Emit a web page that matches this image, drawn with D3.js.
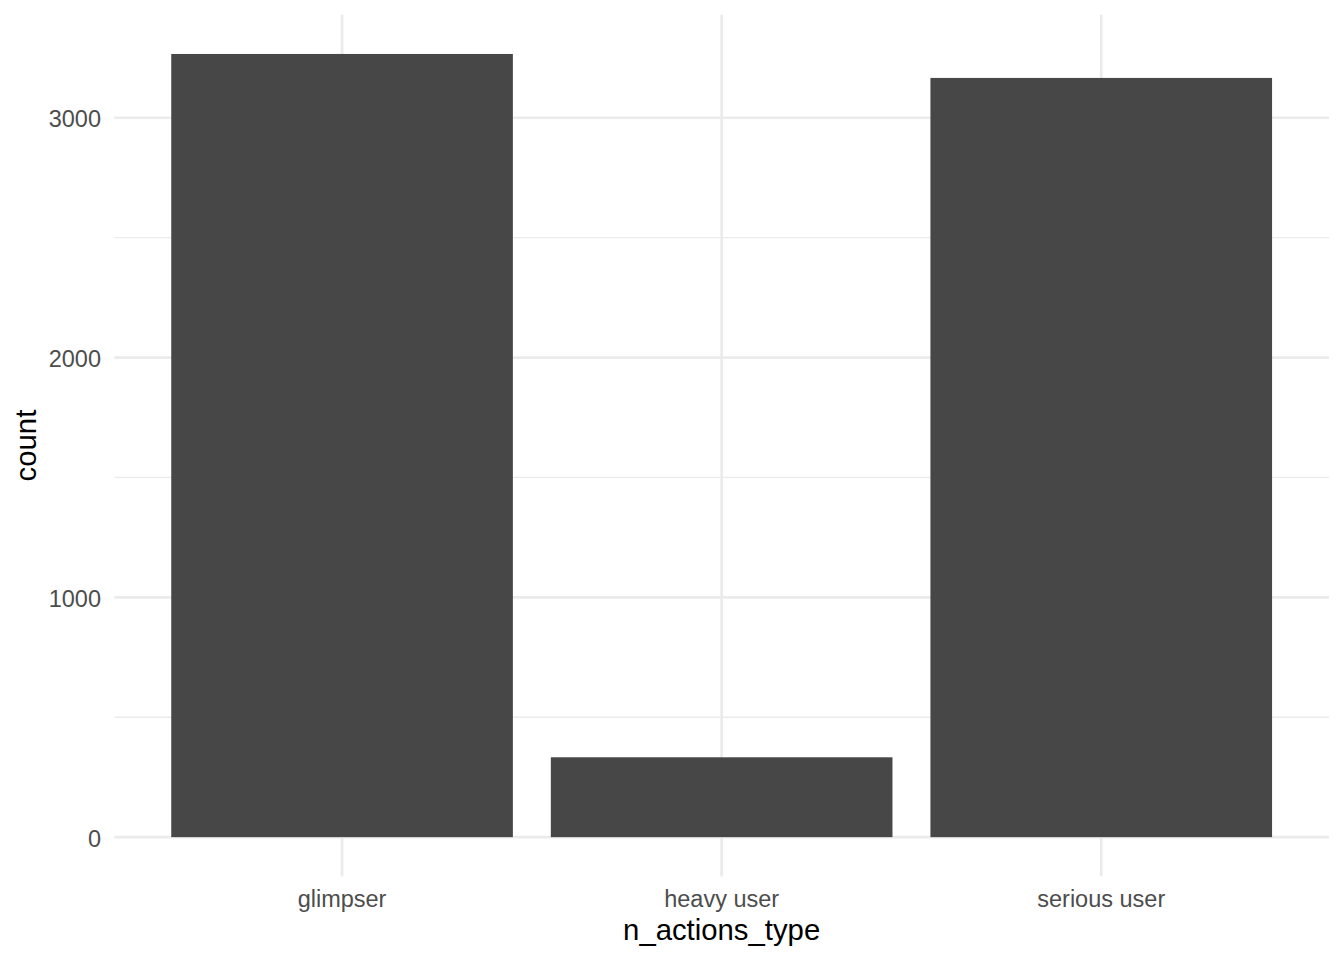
<!DOCTYPE html>
<html>
<head>
<meta charset="utf-8">
<script src="https://cdn.jsdelivr.net/npm/d3@7"></script>
<style>
  html, body { margin: 0; padding: 0; background: #ffffff; }
  svg { display: block; }
  text { font-family: "Liberation Sans", Arial, Helvetica, sans-serif; }
</style>
</head>
<body>
<svg id="chart" width="1344" height="960"></svg>
<script>
const categories = ["glimpser", "heavy user", "serious user"];
const counts = [3266, 333, 3166];
const yMajorTicks = [0, 1000, 2000, 3000];
const yMinorTicks = [500, 1500, 2500];
const xTitle = "n_actions_type";
const yTitle = "count";

const W = 1344, H = 960;
const panel = { left: 114.3, right: 1329, top: 14.8, bottom: 876.3 };

const svg = d3.select("#chart");

const maxV = d3.max(counts);
const y = d3.scaleLinear()
  .domain([-0.05 * maxV, 1.05 * maxV])
  .range([panel.bottom, panel.top]);

const x = d3.scaleBand()
  .domain(categories)
  .range([panel.left, panel.right])
  .paddingInner(0.1)
  .paddingOuter(0.15);

const grid = svg.append("g");
grid.selectAll("line.minor").data(yMinorTicks).enter().append("line")
  .attr("x1", panel.left).attr("x2", panel.right)
  .attr("y1", d => y(d)).attr("y2", d => y(d))
  .attr("stroke", "#EBEBEB").attr("stroke-width", 1.35);
grid.selectAll("line.majorY").data(yMajorTicks).enter().append("line")
  .attr("x1", panel.left).attr("x2", panel.right)
  .attr("y1", d => y(d)).attr("y2", d => y(d))
  .attr("stroke", "#EBEBEB").attr("stroke-width", 2.7);
grid.selectAll("line.majorX").data(categories).enter().append("line")
  .attr("x1", d => x(d) + x.bandwidth() / 2).attr("x2", d => x(d) + x.bandwidth() / 2)
  .attr("y1", panel.top).attr("y2", panel.bottom)
  .attr("stroke", "#EBEBEB").attr("stroke-width", 2.7);

svg.append("g").selectAll("rect").data(categories).enter().append("rect")
  .attr("x", d => x(d))
  .attr("width", x.bandwidth())
  .attr("y", (d, i) => y(counts[i]))
  .attr("height", (d, i) => y(0) - y(counts[i]))
  .attr("fill", "#474747");

svg.append("g").selectAll("text").data(yMajorTicks).enter().append("text")
  .attr("x", 101)
  .attr("y", d => y(d))
  .attr("dy", "0.4em")
  .attr("text-anchor", "end")
  .attr("font-size", 23.5)
  .attr("fill", "#4D4D4D")
  .text(d => d);

svg.append("g").selectAll("text").data(categories).enter().append("text")
  .attr("x", d => x(d) + x.bandwidth() / 2)
  .attr("y", 906.5)
  .attr("text-anchor", "middle")
  .attr("font-size", 23.5)
  .attr("fill", "#4D4D4D")
  .text(d => d);

svg.append("text")
  .attr("x", (panel.left + panel.right) / 2)
  .attr("y", 940)
  .attr("text-anchor", "middle")
  .attr("font-size", 29.3)
  .attr("fill", "#000000")
  .text(xTitle);

svg.append("text")
  .attr("transform", `translate(35.5,${(panel.top + panel.bottom) / 2}) rotate(-90)`)
  .attr("text-anchor", "middle")
  .attr("font-size", 29.3)
  .attr("fill", "#000000")
  .text(yTitle);
</script>
</body>
</html>
